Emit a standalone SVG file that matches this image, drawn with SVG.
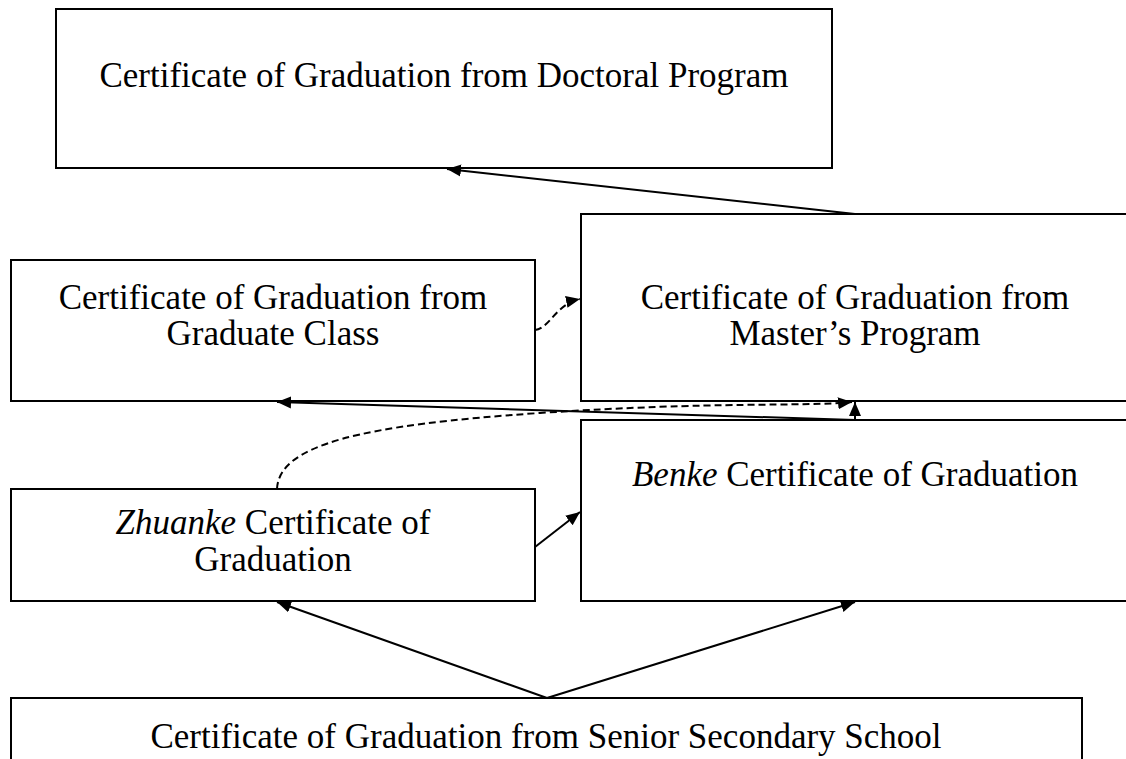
<svg xmlns="http://www.w3.org/2000/svg" width="1126" height="759" viewBox="0 0 1126 759">
<style>
.box{fill:#fff;stroke:#000;stroke-width:2}
.t{font-family:"Liberation Serif","Times New Roman",serif;font-size:35px;fill:#000;text-anchor:middle}
.c{fill:none;stroke:#000;stroke-width:2}
.d{fill:none;stroke:#000;stroke-width:2;stroke-dasharray:7,4}
</style>
<defs>
<marker id="ah" markerWidth="16" markerHeight="14" refX="14" refY="6.5" orient="auto" markerUnits="userSpaceOnUse">
<path d="M0,0.5 L14,6.5 L0,12.5 z" fill="#000"/>
</marker>
</defs>
<rect width="1126" height="759" fill="#fff"/>
<g id="doctoral">
<rect class="box" x="56" y="9" width="776" height="159"/>
<text class="t" x="444" y="87">Certificate of Graduation from Doctoral Program</text>
</g>
<g id="master">
<rect class="box" x="581" y="214" width="560" height="187"/>
<text class="t" x="855" y="309">Certificate of Graduation from</text>
<text class="t" x="855" y="345">Master’s Program</text>
</g>
<g id="graduate">
<rect class="box" x="11" y="260" width="524" height="141"/>
<text class="t" x="273" y="309">Certificate of Graduation from</text>
<text class="t" x="273" y="345">Graduate Class</text>
</g>
<g id="benke">
<rect class="box" x="581" y="420" width="560" height="181"/>
<text class="t" x="855" y="486"><tspan font-style="italic">Benke</tspan> Certificate of Graduation</text>
</g>
<g id="zhuanke">
<rect class="box" x="11" y="489" width="524" height="112"/>
<text class="t" x="273" y="534"><tspan font-style="italic">Zhuanke</tspan> Certificate of</text>
<text class="t" x="273" y="571">Graduation</text>
</g>
<g id="senior">
<rect class="box" x="11" y="698" width="1071" height="80"/>
<text class="t" x="546" y="748">Certificate of Graduation from Senior Secondary School</text>
</g>
<g id="connectors">
<line class="c" x1="855" y1="214" x2="447" y2="169" marker-end="url(#ah)"/>
<line class="c" x1="855" y1="420" x2="855" y2="402" marker-end="url(#ah)"/>
<line class="c" x1="855" y1="420" x2="277" y2="402" marker-end="url(#ah)"/>
<line class="c" x1="535" y1="547" x2="580" y2="512" marker-end="url(#ah)"/>
<line class="c" x1="547" y1="698" x2="277" y2="602" marker-end="url(#ah)"/>
<line class="c" x1="547" y1="698" x2="855" y2="602" marker-end="url(#ah)"/>
<path class="d" d="M535,330 C550,328 556,304 580,299" marker-end="url(#ah)"/>
<path class="d" d="M277,489 C279,445 360,425 540,413 S800,407 852,402" marker-end="url(#ah)"/>
</g>
</svg>
